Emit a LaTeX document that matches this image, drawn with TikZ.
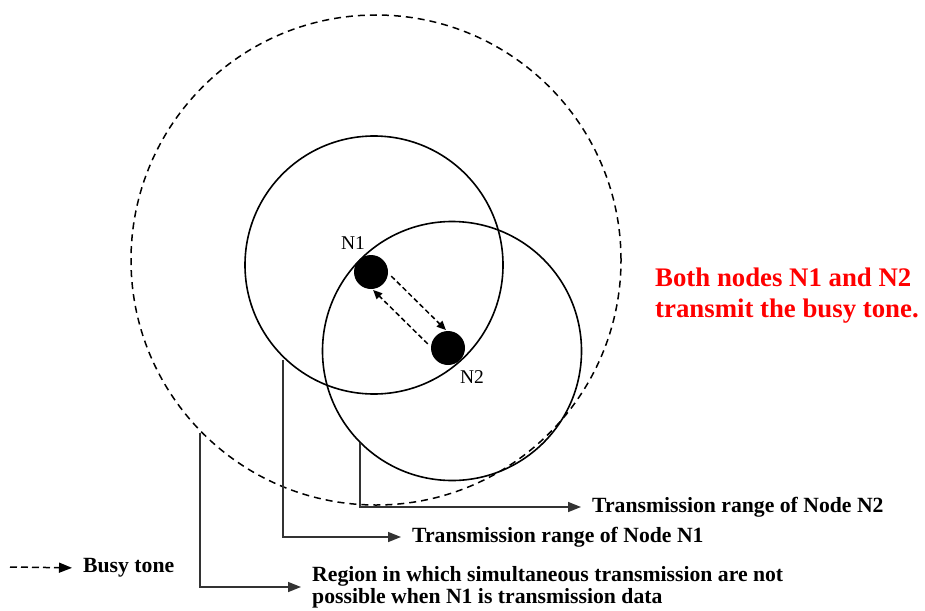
\documentclass[tikz,border=0pt]{standalone}
\usepackage{fontspec}
\setmainfont{Liberation Serif}
\usetikzlibrary{arrows.meta}
\begin{document}
\begin{tikzpicture}[x=1pt,y=-1pt,
  ring/.style={draw, line width=1.6pt, circle, inner sep=0pt},
  bigring/.style={ring, line width=1.5pt, dash pattern=on 7pt off 5pt},
  dot/.style={circle, fill=black, inner sep=0pt, minimum size=34pt},
  lbl/.style={font=\fontsize{19.5}{19.5}\selectfont, inner sep=0pt},
  txt/.style={font=\bfseries\fontsize{21.7}{22}\selectfont, anchor=west, inner sep=0pt, align=left},
  redtxt/.style={font=\bfseries\fontsize{26.8}{31}\selectfont, anchor=west, inner sep=0pt, align=left, text=red},
  leader/.style={draw=black!80, line width=1.5pt, -{Triangle[length=13pt,width=10pt]}, shorten >=11pt},
  busyarrow/.style={draw, line width=1.5pt, dash pattern=on 5pt off 3pt, -{Triangle[length=9pt,width=8pt]}},
  legendarrow/.style={draw, line width=1.5pt, dash pattern=on 7pt off 4pt, -{Triangle[length=13pt,width=10pt]}, shorten >=11pt}
]
\useasboundingbox (0,0) rectangle (925,610);

% circles
\node[bigring, minimum size=490pt] (busy) at (376,260) {};
\node[ring, minimum size=258pt] (r1) at (374,265) {};
\node[ring, minimum size=259pt] (r2) at (452,351) {};

% nodes
\node[dot] (n1) at (371,272) {};
\node[dot] (n2) at (448,348) {};
\node[lbl] (n1l) at (353,243) {N1};
\node[lbl] (n2l) at (472,377) {N2};

% busy tone arrows between nodes
\draw[busyarrow, transform canvas={shift={(8,-8)}}, shorten >=-3pt] (n1) -- (n2);
\draw[busyarrow, transform canvas={shift={(-8,8)}}, shorten >=-3pt] (n2) -- (n1);

% red note
\node[redtxt] (note) at (655,296) {Both nodes N1 and N2\\transmit the busy tone.};

% labels
\node[txt] (t2) at (592,507) {Transmission range of Node N2};
\node[txt] (t1) at (412,537) {Transmission range of Node N1};
\node[txt] (reg) at (312,587) {Region in which simultaneous transmission are not\\possible when N1 is transmission data};
\node[txt] (bt) at (83,568) {Busy tone};

% leader lines
\coordinate (p2) at (360,443);
\coordinate (p1) at (283,360);
\coordinate (p0) at (200,433);
\coordinate (q0) at (10,567);
\draw[leader] (p2) |- (t2.west);
\draw[leader] (p1) |- (t1.west);
\draw[leader] (p0) |- (reg.west);
\draw[legendarrow] (q0) -- (bt.west);
\end{tikzpicture}
\end{document}
